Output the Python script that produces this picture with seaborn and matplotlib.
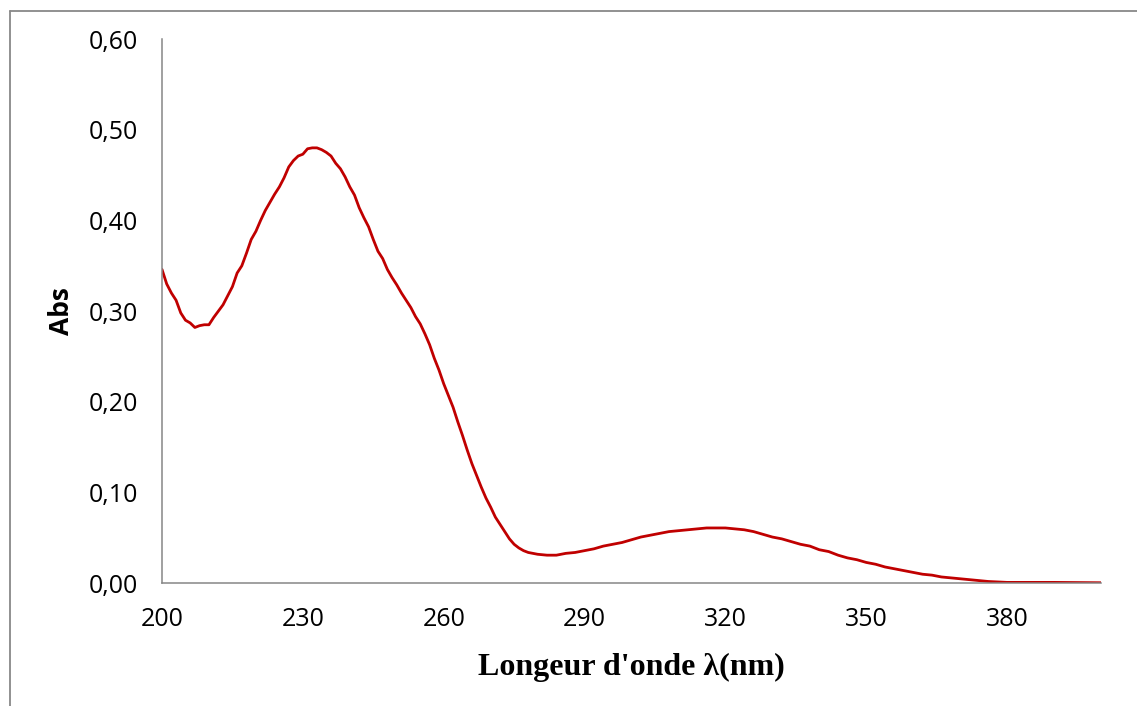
import matplotlib
matplotlib.use("Agg")
import matplotlib.pyplot as plt
from matplotlib.lines import Line2D
from matplotlib.ticker import FuncFormatter
import seaborn as sns
import pandas as pd

# UV-Vis absorption spectrum
wavelength = [
    200, 201, 202, 203, 204, 205, 206, 207, 208, 209, 210, 211, 212, 213, 214,
    215, 216, 217, 218, 219, 220, 221, 222, 223, 224, 225, 226, 227, 228, 229,
    230, 231, 232, 233, 234, 235, 236, 237, 238, 239, 240, 241, 242, 243, 244,
    245, 246, 247, 248, 249, 250, 251, 252, 253, 254, 255, 256, 257, 258, 259,
    260, 261, 262, 263, 264, 265, 266, 267, 268, 269, 270, 271, 272, 273, 274,
    275, 276, 277, 278, 279, 280, 282, 284, 286, 288, 290, 292, 294, 296, 298,
    300, 302, 304, 306, 308, 310, 312, 314, 316, 318, 320, 322, 324, 326, 328,
    330, 332, 334, 336, 338, 340, 342, 344, 346, 348, 350, 352, 354, 356, 358,
    360, 362, 364, 366, 368, 370, 372, 374, 376, 378, 380, 385, 390, 395, 400,
]
absorbance = [
    0.346, 0.330, 0.320, 0.312, 0.298, 0.290, 0.287, 0.282, 0.284, 0.285,
    0.285, 0.293, 0.300, 0.307, 0.317, 0.327, 0.342, 0.350, 0.364, 0.379,
    0.388, 0.400, 0.411, 0.420, 0.429, 0.437, 0.447, 0.459, 0.466, 0.471,
    0.473, 0.479, 0.480, 0.480, 0.478, 0.475, 0.471, 0.463, 0.457, 0.448,
    0.437, 0.428, 0.414, 0.403, 0.393, 0.379, 0.366, 0.358, 0.346, 0.337,
    0.329, 0.320, 0.312, 0.304, 0.294, 0.286, 0.275, 0.263, 0.248, 0.235,
    0.220, 0.207, 0.194, 0.178, 0.163, 0.147, 0.132, 0.119, 0.106, 0.094,
    0.084, 0.073, 0.065, 0.057, 0.049, 0.043, 0.039, 0.036, 0.034, 0.033,
    0.032, 0.031, 0.031, 0.033, 0.034, 0.036, 0.038, 0.041, 0.043, 0.045,
    0.048, 0.051, 0.053, 0.055, 0.057, 0.058, 0.059, 0.060, 0.061, 0.061,
    0.061, 0.060, 0.059, 0.057, 0.054, 0.051, 0.049, 0.046, 0.043, 0.041,
    0.037, 0.035, 0.031, 0.028, 0.026, 0.023, 0.021, 0.018, 0.016, 0.014,
    0.012, 0.010, 0.009, 0.007, 0.006, 0.005, 0.004, 0.003, 0.002, 0.0015,
    0.001, 0.001, 0.001, 0.0008, 0.0006,
]
x_ticks = [200, 230, 260, 290, 320, 350, 380]
y_ticks = [0.0, 0.1, 0.2, 0.3, 0.4, 0.5, 0.6]

df = pd.DataFrame({"wavelength": wavelength, "absorbance": absorbance})

sns.set_style("white")
plt.rcParams["font.family"] = ["Open Sans", "DejaVu Sans"]

W, H = 1137, 706
fig = plt.figure(figsize=(W / 100, H / 100), dpi=100)
ax = fig.add_axes([162 / W, 1 - 583.3 / H, (1101 - 162) / W, (583.3 - 39) / H])

sns.lineplot(data=df, x="wavelength", y="absorbance", ax=ax,
             color="#C00000", linewidth=2.0)

ax.set_xlim(200, 400)
ax.set_ylim(0, 0.6)
ax.set_xticks(x_ticks)
ax.set_yticks(y_ticks)
ax.yaxis.set_major_formatter(FuncFormatter(lambda v, _: f"{v:.2f}".replace(".", ",")))
ax.tick_params(axis="both", length=0, labelsize=18, colors="black")
ax.tick_params(axis="y", pad=17)
ax.tick_params(axis="x", pad=17)

for side in ("top", "right"):
    ax.spines[side].set_visible(False)
for side in ("left", "bottom"):
    ax.spines[side].set_color("#868686")
    ax.spines[side].set_linewidth(1.1)

ax.set_ylabel("Abs", fontsize=19, fontweight="bold", color="black", labelpad=10)
ax.set_xlabel("Longeur d'onde λ(nm)", fontsize=23, fontweight="bold", color="black",
              family=["Liberation Serif", "DejaVu Serif"], labelpad=15)

# chart-area frame along the top and left edges
fx = 10 / W
fy = 1 - 10.5 / H
fig.add_artist(Line2D([fx, 1], [fy, fy], transform=fig.transFigure,
                      color="#888888", linewidth=1.3))
fig.add_artist(Line2D([fx, fx], [0, fy], transform=fig.transFigure,
                      color="#888888", linewidth=1.3))

fig.savefig("out.png", dpi=100, facecolor="white")
